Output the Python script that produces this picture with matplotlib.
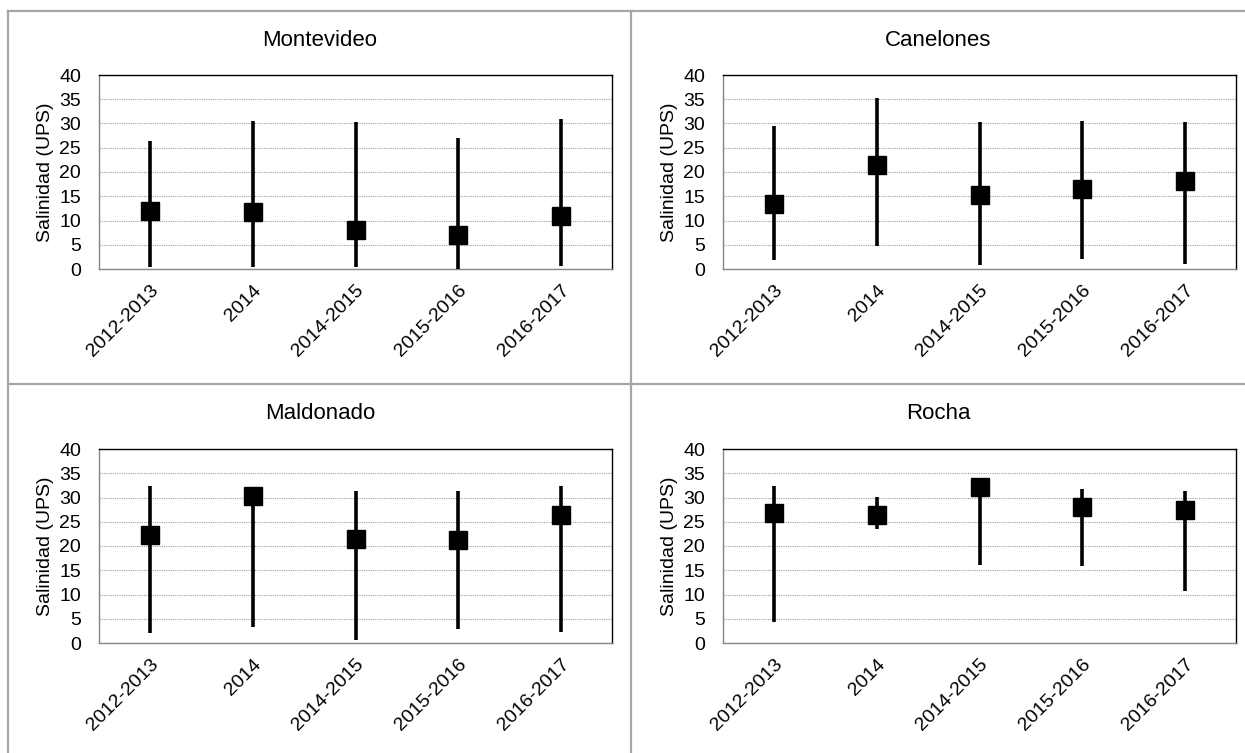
import matplotlib
matplotlib.use("Agg")
import matplotlib.pyplot as plt
from matplotlib.lines import Line2D

plt.rcParams['font.family'] = ['Liberation Sans', 'DejaVu Sans']

categories = ["2012-2013", "2014", "2014-2015", "2015-2016", "2016-2017"]
titles = ["Montevideo", "Canelones", "Maldonado", "Rocha"]

mont_mean = [11.9, 11.7, 8.1, 7.1, 11.0]
mont_max = [26.4, 30.5, 30.4, 27.0, 30.9]
mont_min = [0.4, 0.5, 0.4, 0.1, 0.7]

cane_mean = [13.4, 21.5, 15.2, 16.5, 18.1]
cane_max = [29.4, 35.2, 30.4, 30.5, 30.3]
cane_min = [1.9, 4.7, 0.8, 2.1, 1.1]

mald_mean = [22.3, 30.3, 21.4, 21.2, 26.3]
mald_max = [32.3, 30.5, 31.4, 31.3, 32.4]
mald_min = [2.1, 3.2, 0.6, 2.9, 2.3]

roch_mean = [26.8, 26.3, 32.2, 28.0, 27.5]
roch_max = [32.3, 30.1, 32.5, 31.7, 31.4]
roch_min = [4.3, 23.5, 16.1, 15.9, 10.8]

data = [
    (mont_mean, mont_min, mont_max),
    (cane_mean, cane_min, cane_max),
    (mald_mean, mald_min, mald_max),
    (roch_mean, roch_min, roch_max),
]

W, H = 1245, 753
fig = plt.figure(figsize=(W / 100, H / 100), dpi=100)

# axes rectangles in pixel coords: left, right, top, bottom
rects = [
    (99, 612, 75, 269),
    (723, 1236, 75, 269),
    (99, 612, 449, 643),
    (723, 1236, 449, 643),
]
cell_cx = [320, 938, 320, 938]
title_y = [41, 41, 414, 414]

FS = 14
for i, ((mean, lo, hi), (l, r, t, b)) in enumerate(zip(data, rects)):
    ax = fig.add_axes([l / W, 1 - b / H, (r - l) / W, (b - t) / H])
    x = list(range(len(categories)))
    ax.vlines(x, lo, hi, color='black', lw=2.6, zorder=3)
    ax.plot(x, mean, linestyle='none', marker='s', markersize=13,
            color='black', zorder=4)
    ax.set_xlim(-0.5, len(categories) - 0.5)
    ax.set_ylim(0, 40)
    ax.set_yticks(range(0, 41, 5))
    ax.set_xticks(x)
    ax.set_xticklabels(categories, rotation=45, ha='right',
                       rotation_mode='anchor', fontsize=FS)
    ax.tick_params(axis='both', length=0, labelsize=FS)
    ax.tick_params(axis='x', pad=9)
    ax.tick_params(axis='y', pad=13)
    ax.yaxis.grid(True, color='#a0a0a0', lw=0.8, linestyle=(0, (1, 1)))
    ax.set_axisbelow(True)
    for s in ['top', 'right']:
        ax.spines[s].set_color('black')
        ax.spines[s].set_linewidth(1.0)
    for s in ['left', 'bottom']:
        ax.spines[s].set_color('#868686')
        ax.spines[s].set_linewidth(1.0)
    ax.set_ylabel("Salinidad (UPS)", fontsize=FS, labelpad=4)
    fig.text(cell_cx[i] / W, 1 - title_y[i] / H, titles[i], ha='center',
             va='center', fontsize=16)

# cell borders
gc = '#a6a6a6'
lw = 1.6
def hline(y, x0, x1):
    fig.add_artist(Line2D([x0 / W, x1 / W], [1 - y / H, 1 - y / H],
                          color=gc, lw=lw, transform=fig.transFigure))
def vline(x, y0, y1):
    fig.add_artist(Line2D([x / W, x / W], [1 - y0 / H, 1 - y1 / H],
                          color=gc, lw=lw, transform=fig.transFigure))

hline(11, 8, W)
hline(384, 8, W)
vline(8, 11, H)
vline(631, 11, H)

fig.savefig("out.png", dpi=100)
